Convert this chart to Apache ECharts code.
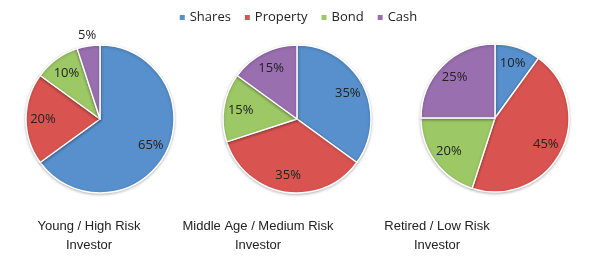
<!DOCTYPE html>
<html>
<head>
<meta charset="utf-8">
<script src="https://cdn.jsdelivr.net/npm/echarts@6/dist/echarts.min.js"></script>
<style>
html, body { margin: 0; padding: 0; background: #fff; }
#chart { width: 595px; height: 264px; }
</style>
</head>
<body>
<div id="chart"></div>
<script>
var categories = ['Shares', 'Property', 'Bond', 'Cash'];
var colors = ['#5790CC', '#D95450', '#9DC866', '#9A6FB0'];

var youngValues = [65, 20, 10, 5];
var middleValues = [35, 35, 15, 15];
var retiredValues = [10, 45, 20, 25];

var pieTitles = ['Young / High Risk\nInvestor', 'Middle Age / Medium Risk\nInvestor', 'Retired / Low Risk\nInvestor'];

var centers = [[100, 119], [297, 119], [495, 118]];
var titleX = [84, 253, 432];
var R = 74;

var myChart = echarts.init(document.getElementById('chart'));

var allValues = [youngValues, middleValues, retiredValues];
var series = [];

allValues.forEach(function (vals, i) {
    var data = vals.map(function (v, j) {
        return { name: categories[j], value: v };
    });
    // the pie itself
    series.push({
        type: 'pie',
        center: centers[i],
        radius: [0, R],
        startAngle: 90,
        clockwise: true,
        label: { show: false },
        labelLine: { show: false },
        emphasis: { disabled: true },
        itemStyle: {
            borderColor: '#fff',
            borderWidth: 1.5,
            shadowBlur: 3,
            shadowColor: 'rgba(0,0,0,0.25)',
            shadowOffsetY: 1
        },
        data: data
    });
    // transparent ring only for placing the labels further out
    series.push({
        type: 'pie',
        center: centers[i],
        radius: [R * 0.46, R],
        startAngle: 90,
        clockwise: true,
        silent: true,
        legendHoverLink: false,
        itemStyle: { color: 'rgba(0,0,0,0)' },
        label: {
            show: true,
            position: 'inside',
            formatter: '{c}%',
            color: '#222',
            fontFamily: 'Open Sans',
            fontSize: 13
        },
        labelLine: { show: false },
        data: data.map(function (d) {
            var o = { name: d.name, value: d.value };
            if (d.value < 8) {
                o.label = { position: 'outside', align: 'center', offset: [14, -3], color: '#222' };
                o.labelLine = { show: false, length: 8, length2: 0 };
            }
            return o;
        })
    });
});

var option = {
    animation: false,
    color: colors,
    legend: {
        top: 6,
        left: 'center',
        itemWidth: 7,
        itemHeight: 7,
        itemGap: 12,
        icon: 'rect',
        textStyle: { fontFamily: 'Open Sans', fontSize: 13, color: '#222', padding: [0, 0, 0, -1] },
        data: categories
    },
    title: pieTitles.map(function (t, i) {
        return {
            text: t,
            left: titleX[i],
            top: 212,
            textAlign: 'center',
            textStyle: {
                fontFamily: 'Liberation Sans',
                fontSize: 13,
                fontWeight: 'normal',
                color: '#222',
                lineHeight: 19
            }
        };
    }),
    series: series
};

myChart.setOption(option);
</script>
</body>
</html>
